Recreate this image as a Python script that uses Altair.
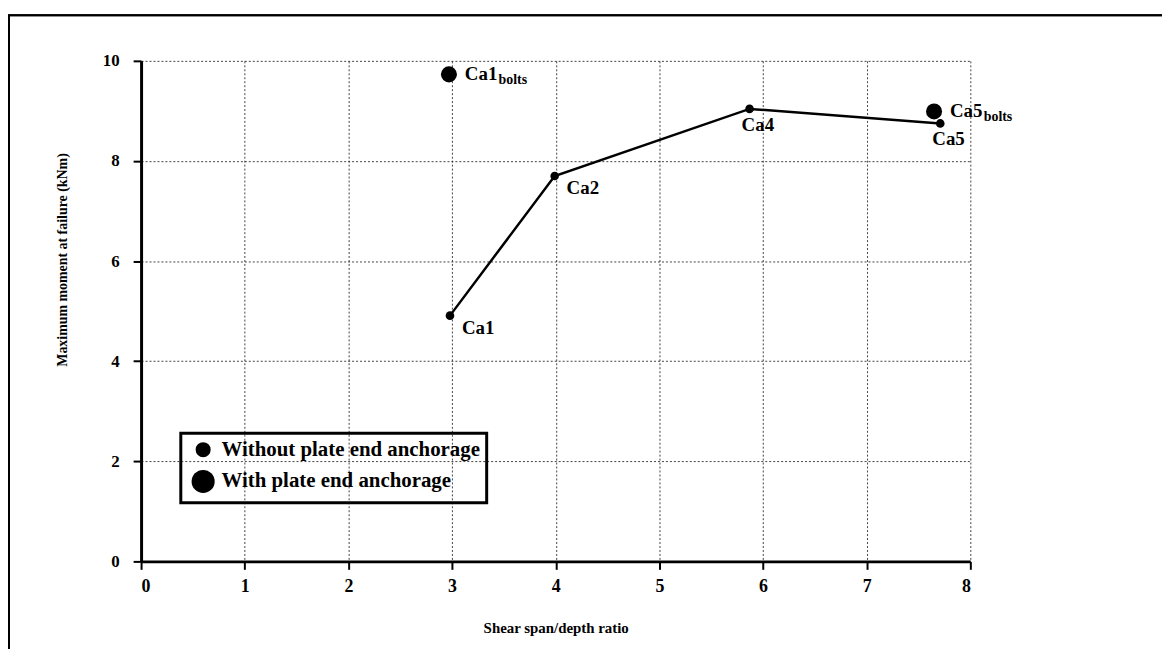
import altair as alt
import pandas as pd

# ---- data ----
without_labels = ["Ca1", "Ca2", "Ca4", "Ca5"]
without_x = [2.98, 3.99, 5.87, 7.71]
without_y = [4.91, 7.70, 9.04, 8.75]

with_labels = ["Ca1", "Ca5"]
with_x = [2.97, 7.65]
with_y = [9.73, 8.99]

series_names = ["Without plate end anchorage", "With plate end anchorage"]
x_ticks = [0, 1, 2, 3, 4, 5, 6, 7, 8]
y_ticks = [0, 2, 4, 6, 8, 10]
label_side = ["right", "right", "below", "below"]

df_without = pd.DataFrame({"x": without_x, "y": without_y, "label": without_labels,
                           "series": series_names[0], "side": label_side})
df_with = pd.DataFrame({"x": with_x, "y": with_y, "label": with_labels,
                        "series": series_names[1], "sub": "bolts"})
df_pts = pd.concat([df_without, df_with], ignore_index=True)

SERIF = "Liberation Serif"

xs = alt.Scale(domain=[0, 8], nice=False)
ys = alt.Scale(domain=[0, 10], nice=False)

X = alt.X("x:Q", scale=xs, title="Shear span/depth ratio",
          axis=alt.Axis(values=x_ticks, format="d", grid=True))
Y = alt.Y("y:Q", scale=ys, title="Maximum moment at failure (kNm)",
          axis=alt.Axis(values=y_ticks, format="d", grid=True,
                        titleX=-72, titleY=200, titleFontSize=14))

line = alt.Chart(df_without).mark_line(color="black", strokeWidth=2.5).encode(
    x=X, y=Y, order="x:Q")

# visible points (marker size by series, no legend)
points = alt.Chart(df_pts).mark_circle(color="black", opacity=1).encode(
    x="x:Q", y="y:Q",
    size=alt.Size("series:N",
                  scale=alt.Scale(domain=series_names, range=[75, 260]),
                  legend=None))

# invisible copy that only carries the legend (bigger legend symbols)
legend_carrier = alt.Chart(df_pts).mark_circle(color="black", opacity=0).encode(
    x="x:Q", y="y:Q",
    size=alt.Size("series:N",
                  scale=alt.Scale(domain=series_names, range=[230, 540]),
                  legend=alt.Legend(title=None, symbolType="circle",
                                    symbolFillColor="black",
                                    symbolOpacity=1)))

txt_kw = dict(font=SERIF, fontSize=19, fontWeight="bold", color="black",
              align="left", baseline="middle")

lab_right = alt.Chart(df_without).transform_filter(
    alt.datum.side == "right").mark_text(dx=12, dy=12, **txt_kw).encode(
    x="x:Q", y="y:Q", text="label:N")
lab_below = alt.Chart(df_without).transform_filter(
    alt.datum.side == "below").mark_text(dx=-8, dy=16, **txt_kw).encode(
    x="x:Q", y="y:Q", text="label:N")

lab_bolts = alt.Chart(df_with).mark_text(dx=16, dy=0, **txt_kw).encode(
    x="x:Q", y="y:Q", text="label:N")
sub_bolts = alt.Chart(df_with).mark_text(
    dx=50, dy=6, font=SERIF, fontSize=14, fontWeight="bold", color="black",
    align="left", baseline="middle").encode(x="x:Q", y="y:Q", text="sub:N")

# frame lines of the scanned page (decoration)
frame_top = alt.Chart(df_with).mark_rule(color="black", strokeWidth=2).encode(
    x=alt.value(-134), x2=alt.value(1030), y=alt.value(-46))
frame_left = alt.Chart(df_with).mark_rule(color="black", strokeWidth=2).encode(
    x=alt.value(-133), y=alt.value(-46), y2=alt.value(620))

chart = alt.layer(frame_top, frame_left, line, legend_carrier, points,
                  lab_right, lab_below, lab_bolts, sub_bolts).resolve_scale(
    size="independent").properties(
    width=835, height=504,
    autosize=alt.AutoSizeParams(type="none"),
    padding={"left": 134, "top": 51, "right": 193, "bottom": 86},
).configure_view(stroke=None).configure_axis(
    gridColor="#222", gridDash=[2, 2], gridWidth=1, gridOpacity=0.85,
    domainColor="black", domainWidth=3, tickColor="black", tickWidth=2,
    tickSize=8,
    labelFont=SERIF, labelFontSize=17, labelFontWeight="bold", labelColor="black",
    titleFont=SERIF, titleFontSize=15, titleFontWeight="bold", titleColor="black",
).configure_axisX(labelPadding=8, labelFontSize=18, titlePadding=26).configure_axisY(
    labelPadding=14).configure_legend(
    orient="none", legendX=40, legendY=375,
    strokeColor="black", strokeWidth=3, padding=6, rowPadding=5,
    symbolOffset=4, labelOffset=6,
    labelFont=SERIF, labelFontSize=21, labelFontWeight="bold",
    labelColor="black", labelLimit=600,
)

chart.save("out.html", embed_options={"renderer": "svg", "actions": False})
